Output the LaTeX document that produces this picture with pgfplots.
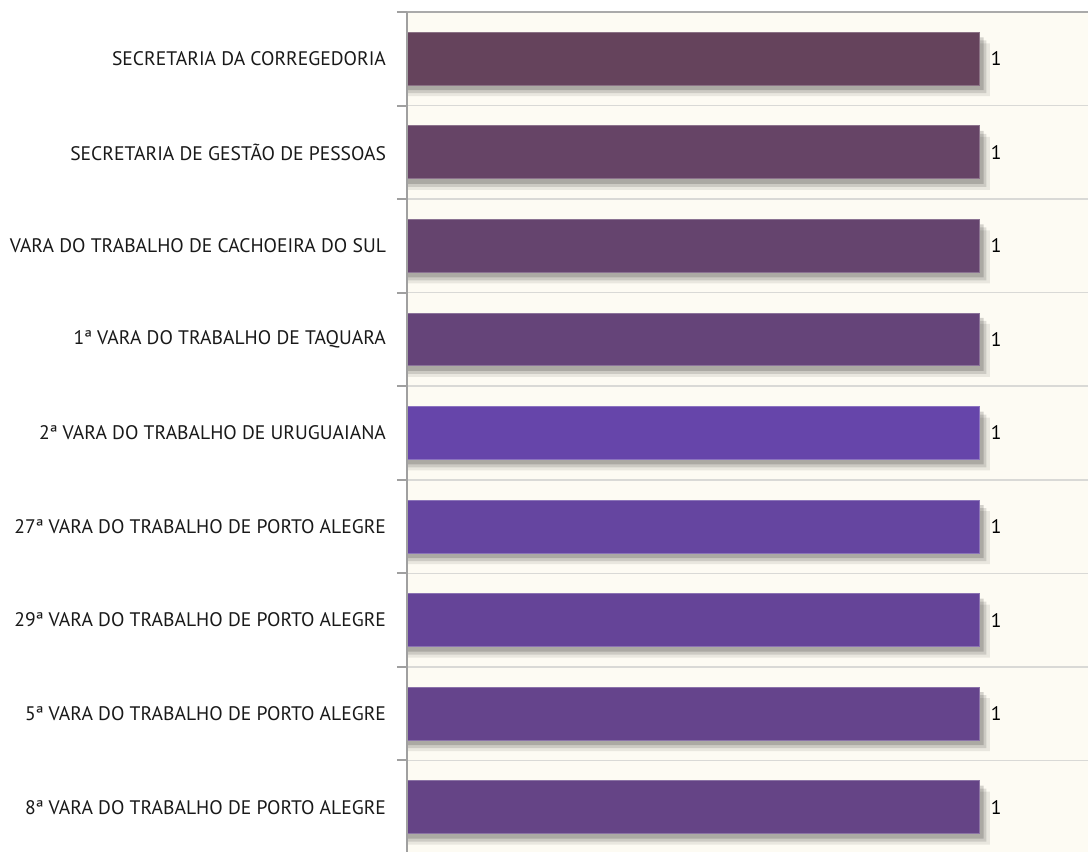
\documentclass[border=0pt]{standalone}
\usepackage{fontspec}
\setmainfont{PT Sans}
\usepackage{pgfplots}
\pgfplotsset{compat=1.18}

\definecolor{bgcream}{HTML}{FDFBF3}
\definecolor{gridgray}{HTML}{D9D9D6}
\definecolor{axgray}{HTML}{A0A0A0}
\definecolor{cA}{HTML}{65435C}
\definecolor{cB}{HTML}{664466}
\definecolor{cC}{HTML}{65446E}
\definecolor{cD}{HTML}{654479}
\definecolor{cE}{HTML}{6645AA}
\definecolor{cF}{HTML}{6545A0}
\definecolor{cG}{HTML}{654498}
\definecolor{cH}{HTML}{65448C}
\definecolor{cI}{HTML}{654486}

\pgfplotsset{
  purplebar/.style={xbar, bar width=0.566, bar shift=0pt, fill=#1, draw=#1!75!white, line width=0.4pt,
    nodes near coords, every node near coord/.append style={anchor=west, xshift=2.4pt, font=\fontsize{9.8}{11}\selectfont, text=black}},
  shadowbar/.style={xbar, bar width=0.566, bar shift=#1, fill=black, draw=none, forget plot},
}

\begin{document}
\begin{tikzpicture}
\begin{axis}[
  name=ax,
  scale only axis,
  width=340.5pt, height=421pt,
  xmin=0, xmax=1.1906,
  ymin=-0.5, ymax=8.5,
  /pgf/number format/assume math mode=true,
  xtick=\empty,
  ytick={0,...,8},
  yticklabels={
    8ª VARA DO TRABALHO DE PORTO ALEGRE,
    5ª VARA DO TRABALHO DE PORTO ALEGRE,
    29ª VARA DO TRABALHO DE PORTO ALEGRE,
    27ª VARA DO TRABALHO DE PORTO ALEGRE,
    2ª VARA DO TRABALHO DE URUGUAIANA,
    1ª VARA DO TRABALHO DE TAQUARA,
    VARA DO TRABALHO DE CACHOEIRA DO SUL,
    SECRETARIA DE GESTÃO DE PESSOAS,
    SECRETARIA DA CORREGEDORIA},
  yticklabel style={font=\fontsize{9.8}{11}\selectfont, text=black!90, anchor=east, xshift=-7pt},
  major tick length=0pt,
  extra y ticks={-0.5,0.5,1.5,2.5,3.5,4.5,5.5,6.5,7.5,8.5},
  extra y tick labels={},
  extra y tick style={grid=major, major grid style={draw=gridgray, line width=0.8pt},
    major tick length=5pt, tick align=outside, ytick pos=left,
    tick style={draw=axgray, line width=1pt}},
  axis line style={draw=none},
  axis background/.style={fill=bgcream},
  clip=false,
]
% shadows
\addplot[shadowbar=-5.5pt, opacity=0.08] coordinates {(1.019,0)(1.019,1)(1.019,2)(1.019,3)(1.019,4)(1.019,5)(1.019,6)(1.019,7)(1.019,8)};
\addplot[shadowbar=-4pt, opacity=0.12] coordinates {(1.013,0)(1.013,1)(1.013,2)(1.013,3)(1.013,4)(1.013,5)(1.013,6)(1.013,7)(1.013,8)};
\addplot[shadowbar=-2.5pt, opacity=0.16] coordinates {(1.008,0)(1.008,1)(1.008,2)(1.008,3)(1.008,4)(1.008,5)(1.008,6)(1.008,7)(1.008,8)};
% bars
\addplot[purplebar=cA] coordinates {(1,8)};
\addplot[purplebar=cB] coordinates {(1,7)};
\addplot[purplebar=cC] coordinates {(1,6)};
\addplot[purplebar=cD] coordinates {(1,5)};
\addplot[purplebar=cE] coordinates {(1,4)};
\addplot[purplebar=cF] coordinates {(1,3)};
\addplot[purplebar=cG] coordinates {(1,2)};
\addplot[purplebar=cH] coordinates {(1,1)};
\addplot[purplebar=cI] coordinates {(1,0)};
\draw[draw=axgray!90, line width=0.8pt] (axis description cs:0,1) -- (axis description cs:1,1);
\draw[draw=axgray, line width=1pt] (axis description cs:0,0) -- (axis description cs:0,1);
\end{axis}
\pgfresetboundingbox
\path ([shift={(-203.5pt,6pt)}]ax.north west) rectangle ([yshift=1pt]ax.south east);
\end{tikzpicture}
\end{document}
